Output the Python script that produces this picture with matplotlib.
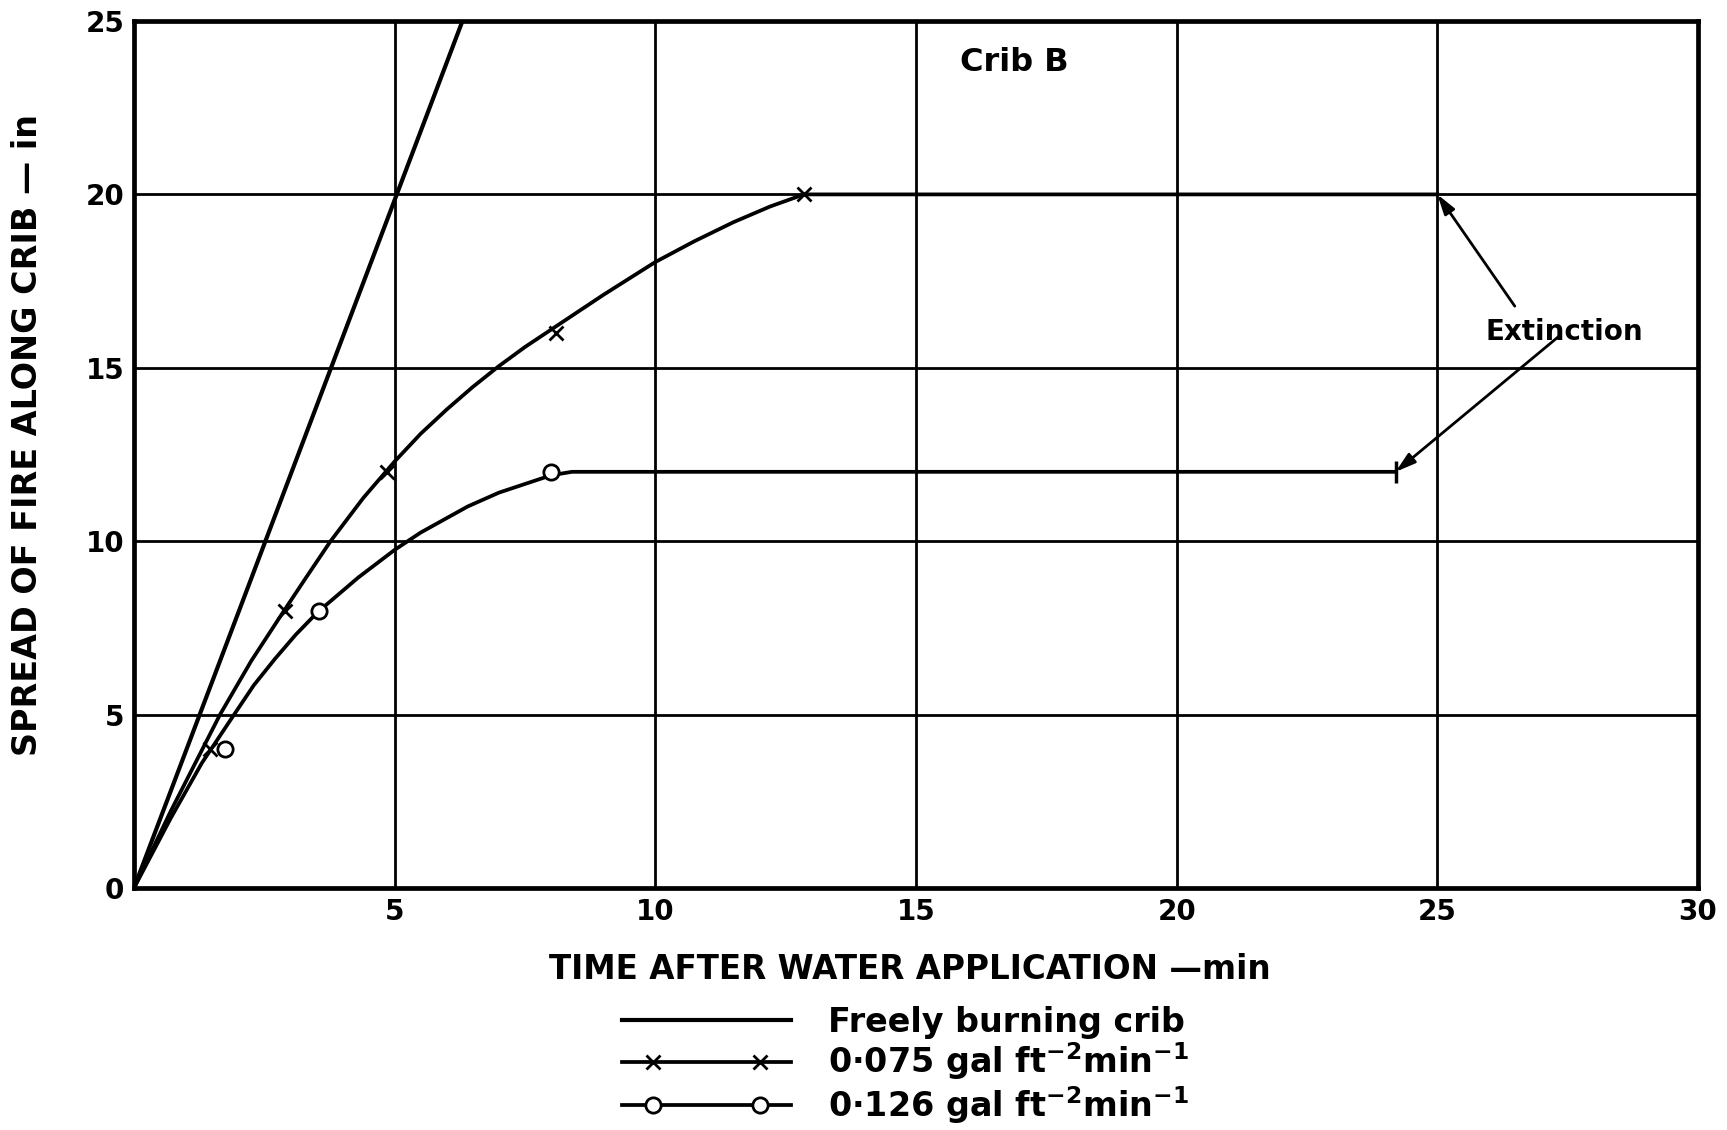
import numpy as np
import matplotlib
matplotlib.use('Agg')
import matplotlib.pyplot as plt
from matplotlib.lines import Line2D
from matplotlib.legend_handler import HandlerLine2D

plt.rcParams['font.family'] = ['DejaVu Sans']
plt.rcParams['font.weight'] = 'bold'
plt.rcParams['axes.labelweight'] = 'bold'
plt.rcParams['mathtext.default'] = 'regular'

# Freely burning crib (straight line, runs off the top)
free_x = [0, 6.3]
free_y = [0, 25]

# 0.075 gal/ft2/min - traced curve and plotted points
curve075_x = [0, 0.7, 1.65, 2.25, 2.88, 3.3, 3.77, 4.4, 5.0, 5.5, 6.0, 6.5, 7.0, 7.5,
              8.1, 9.0, 10.0, 10.75, 11.5, 12.2, 12.85, 25.0]
curve075_y = [0, 2.2, 5.0, 6.55, 8.0, 8.95, 10.0, 11.25, 12.3, 13.1, 13.8, 14.45, 15.05, 15.6,
              16.2, 17.1, 18.05, 18.65, 19.2, 19.65, 20.0, 20.0]
pts075_x = [1.45, 2.9, 4.85, 8.1, 12.85]
pts075_y = [4, 8, 12, 16, 20]

# 0.126 gal/ft2/min - traced curve and plotted points
curve126_x = [0, 0.7, 1.3, 1.92, 2.3, 2.7, 3.1, 3.52, 4.3, 5.0, 5.5, 6.4, 7.0, 8.0, 8.4, 24.2]
curve126_y = [0, 2.0, 3.6, 5.0, 5.85, 6.6, 7.3, 7.95, 8.95, 9.75, 10.25, 11.0, 11.4, 11.9, 12.0, 12.0]
pts126_x = [1.75, 3.55, 8.0]
pts126_y = [4, 8, 12]

# extinction points
ext_x = [25.0, 24.2]
ext_y = [20, 12]

xticks = [0, 5, 10, 15, 20, 25, 30]
xtick_labels = ['', '5', '10', '15', '20', '25', '30']
yticks = [0, 5, 10, 15, 20, 25]

fig = plt.figure(figsize=(17.27, 11.30), dpi=100)
ax = fig.add_axes([0.0776, 0.2142, 0.9056, 0.7672])

ax.plot(free_x, free_y, color='k', lw=3.0, solid_capstyle='butt')
ax.plot(curve075_x, curve075_y, color='k', lw=2.7)
ax.plot(curve126_x, curve126_y, color='k', lw=2.7)
ax.plot(pts075_x, pts075_y, ls='none', marker='x', ms=10, mew=2, color='k')
ax.plot(pts126_x, pts126_y, ls='none', marker='o', ms=11, mew=2, mfc='white', mec='k')
ax.plot(ext_x[1:], ext_y[1:], ls='none', marker='|', ms=16, mew=2.5, color='k')

ax.set_xlim(0, 30)
ax.set_ylim(0, 25)
ax.set_xticks(xticks)
ax.set_xticklabels(xtick_labels)
ax.set_yticks(yticks)
ax.tick_params(length=0, labelsize=20, pad=7)
ax.grid(True, color='k', lw=2.0)
for sp in ax.spines.values():
    sp.set_linewidth(3.4)

ax.set_xlabel('TIME AFTER WATER APPLICATION —min', fontsize=23.5)
ax.xaxis.set_label_coords(0.496, -0.075)
ax.set_ylabel('SPREAD OF FIRE ALONG CRIB — in', fontsize=24)
ax.yaxis.set_label_coords(-0.0575, 0.522)

ax.text(15.85, 23.8, 'Crib B', fontsize=23, ha='left', va='center')

arrow = dict(arrowstyle='-|>,head_length=0.6,head_width=0.18', color='k', lw=2.0,
             mutation_scale=20, shrinkB=0)
ax.annotate('Extinction', xy=(ext_x[0], ext_y[0]), xytext=(27.43, 16.03),
            ha='center', va='center', fontsize=20,
            arrowprops=dict(arrow, relpos=(0.24, 1.0), shrinkA=8))
ax.annotate('', xy=(ext_x[1], ext_y[1]), xytext=(27.43, 16.03),
            arrowprops=dict(arrow, relpos=(0.38, 0.0), shrinkA=4),
            annotation_clip=False)

# legend samples: full-length line plus two markers set in from the ends
lines = [Line2D([], [], color='k', lw=3.0),
         Line2D([], [], color='k', lw=2.7),
         Line2D([], [], color='k', lw=2.7)]
marks = [Line2D([], [], ls='none', marker='x', ms=10, mew=2, color='k'),
         Line2D([], [], ls='none', marker='o', ms=11, mew=2, mfc='white', mec='k')]
handles = [lines[0], (lines[1], marks[0]), (lines[2], marks[1])]
hmap = {ln: HandlerLine2D(numpoints=2, marker_pad=0) for ln in lines}
hmap.update({mk: HandlerLine2D(numpoints=2, marker_pad=0.93) for mk in marks})
labels = ['Freely burning crib',
          '0·075 gal ft$^{-2}$min$^{-1}$',
          '0·126 gal ft$^{-2}$min$^{-1}$']
fig.legend(handles, labels, loc='upper left', bbox_to_anchor=(0.3603, 0.110),
           frameon=False, fontsize=24, handlelength=5.07,
           handletextpad=1.11, labelspacing=0.05, borderpad=0, borderaxespad=0,
           handler_map=hmap)

fig.savefig('out.png', dpi=100)
